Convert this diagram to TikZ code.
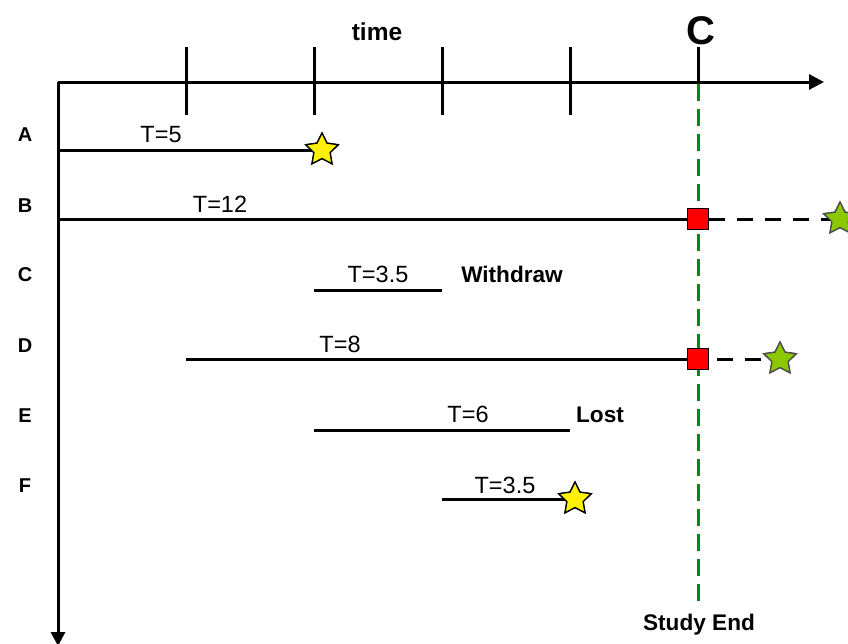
\documentclass[tikz,border=0pt]{standalone}
\usepackage{fontspec}
\setmainfont{Liberation Sans}
\usetikzlibrary{shapes.geometric,arrows.meta}
\definecolor{gstarc}{RGB}{140,200,0}
\definecolor{studygreen}{RGB}{0,140,20}
\begin{document}
\begin{tikzpicture}[x=1pt,y=-1pt,
 axis/.style={line width=3pt},
 tl/.style={line width=3pt},
 tickmark/.style={line width=3pt},
 rowlbl/.style={font=\fontsize{20}{24}\selectfont\bfseries,anchor=base,inner sep=0pt},
 boldlbl/.style={font=\fontsize{22.6}{26}\selectfont\bfseries,anchor=base,inner sep=0pt},
 tlab/.style={font=\fontsize{23.5}{27}\selectfont,anchor=base,inner sep=0pt},
 ystar/.style={star,star points=5,star point ratio=2.0,minimum size=34pt,inner sep=0pt,draw=black,line width=1.3pt,fill=yellow},
 gstar/.style={ystar,fill=gstarc,draw=black!70},
 cens/.style={rectangle,minimum size=21pt,inner sep=0pt,draw=black,line width=1.8pt,fill=red},
 fol/.style={line width=3pt,dash pattern=on 16pt off 12pt},
 studyend/.style={line width=3pt,draw=studygreen,dash pattern=on 17pt off 8pt},
 ]
\clip (0,0) rectangle (848,643);
% axes
\coordinate (O) at (58,82);
\coordinate (xend) at (824,82);
\coordinate (yend) at (58,646);
\draw[axis,-{Triangle[length=15pt,width=15pt]}] (O) -- (xend);
\draw[axis,-{Triangle[length=14pt,width=14pt]}] (O) -- (yend);
% ticks
\foreach \x/\n in {186/t1,314/t2,442/t3,570/t4}{
  \coordinate (\n a) at (\x,47);
  \coordinate (\n b) at (\x,115);
  \draw[tickmark] (\n a) -- (\n b);
}
\coordinate (t5a) at (698,47);
\coordinate (t5b) at (698,82);
\draw[tickmark] (t5a) -- (t5b);
\node[font=\fontsize{24.5}{28}\selectfont\bfseries,anchor=base,inner sep=0pt] (time) at (377,40) {time};
\node[font=\fontsize{40}{44}\selectfont\bfseries,anchor=base,inner sep=0pt] (Clab) at (701,44) {C};
% study end
\coordinate (se1) at (698,84);
\coordinate (se2) at (698,604);
\draw[studyend] (se1) -- (se2);
\node[boldlbl] (studyendlbl) at (699,630) {Study End};
% row labels
\node[rowlbl] (rA) at (25,141) {A};
\node[rowlbl] (rB) at (25,212) {B};
\node[rowlbl] (rC) at (25,281) {C};
\node[rowlbl] (rD) at (25,352) {D};
\node[rowlbl] (rE) at (25,422) {E};
\node[rowlbl] (rF) at (25,492) {F};
% A
\coordinate (a0) at (58,150);
\node[ystar] (aS) at (322,150) {};
\draw[tl] (a0) -- (aS.center);
\node[ystar] at (aS) {};
\node[tlab] (aT) at (161,142) {T=5};
% B
\coordinate (b0) at (58,219);
\node[cens] (bQ) at (698,219) {};
\node[gstar] (bS) at (840,219) {};
\draw[fol] (bQ.east) -- (bS.center);
\draw[tl] (b0) -- (bQ.west);
\node[cens] at (bQ) {};
\node[gstar] at (bS) {};
\node[tlab] (bT) at (220,212) {T=12};
% C
\coordinate (c0) at (314,290);
\coordinate (c1) at (442,290);
\draw[tl] (c0) -- (c1);
\node[tlab] (cT) at (378,282) {T=3.5};
\node[boldlbl] (wd) at (512,282) {Withdraw};
% D
\coordinate (d0) at (186,359);
\node[cens] (dQ) at (698,359) {};
\node[gstar] (dS) at (780,359) {};
\draw[fol] ([xshift=8pt]dQ.east) -- (dS.center);
\draw[tl] (d0) -- (dQ.west);
\node[cens] at (dQ) {};
\node[gstar] at (dS) {};
\node[tlab] (dT) at (340,352) {T=8};
% E
\coordinate (e0) at (314,430);
\coordinate (e1) at (570,430);
\draw[tl] (e0) -- (e1);
\node[tlab] (eT) at (468,422) {T=6};
\node[boldlbl] (lost) at (600,422) {Lost};
% F
\coordinate (f0) at (442,499);
\node[ystar] (fS) at (575,499) {};
\draw[tl] (f0) -- (fS.center);
\node[ystar] at (fS) {};
\node[tlab] (fT) at (505,493) {T=3.5};
\end{tikzpicture}
\end{document}
